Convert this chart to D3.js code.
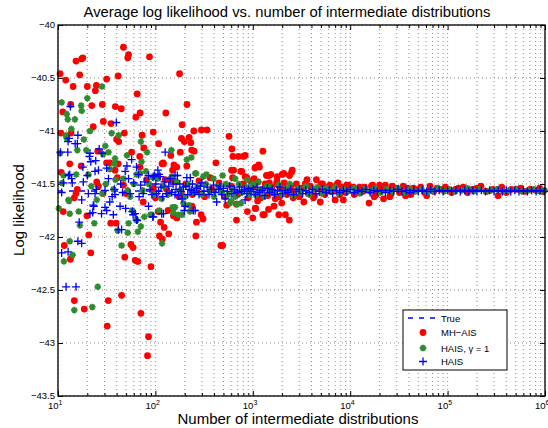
<!DOCTYPE html>
<html lang="en">
<head>
    <meta charset="UTF-8">
    <title>Average log likelihood</title>
    <script src="https://d3js.org/d3.v7.min.js"></script>
    <style>
        body { margin: 0; background: #fff; }
        text { font-family: "Liberation Sans", Arial, Helvetica, sans-serif; }
    </style>
</head>
<body>
    <div id="chart"></div>
    <script>
        // x = number of intermediate distributions, y = log likelihood
        const trueValue = -41.565;

        const mhAis = [
            [10.5,-40.46],[10.7,-41.02],[10.8,-41.39],[11.2,-40.82],[11.3,-41.76],[11.6,-42.08],[12,-40.52],[13.2,-41.31],
            [13.4,-42.21],[13.5,-40.75],[13.6,-41.02],[14.3,-40.58],[14.7,-41.63],[14.7,-42.6],[15.3,-40.34],[15.3,-41.59],
            [15.8,-41.55],[16.7,-40.47],[17.3,-41.33],[17.5,-40.32],[18,-40.31],[18.6,-42.68],[19.8,-41.8],[20,-40.58],
            [20.7,-41.98],[21.7,-42.15],[22.2,-40.76],[23,-40.96],[24.2,-40.62],[24.8,-40.57],[25,-41.48],[25.6,-41.19],
            [26,-41.52],[28.5,-40.75],[29,-41.59],[29.2,-40.91],[31.5,-41.3],[31.6,-40.51],[32,-42.84],[32.8,-42.6],
            [34,-41.3],[34.8,-41.87],[35,-40.93],[38.5,-41.37],[38.8,-40.77],[39.5,-41.87],[40,-41.08],[40.7,-41.44],
            [41.4,-40.48],[41.5,-41.31],[42,-41.1],[44.6,-40.79],[45,-42.55],[47,-40.21],[47,-41.51],[48,-41.02],
            [48.5,-42.19],[50,-41.59],[52,-40.31],[53,-40.28],[56,-42.07],[57,-41.2],[59,-42.1],[62,-42.22],
            [63,-40.87],[65,-40.65],[66,-42.23],[69,-41.24],[69.6,-40.83],[69.6,-41.34],[71,-42.72],[73,-41.04],
            [75,-41.67],[76,-41.16],[81,-41.46],[83,-43.12],[85,-42.94],[87,-40.3],[90,-42.28],[95,-41.01],
            [95,-41.54],[100,-41.63],[107,-41.76],[108,-41.12],[110,-41.99],[113,-41.86],[117,-41.31],[118,-42.02],
            [120,-41.3],[121,-41.31],[123,-41.91],[126,-41.46],[128,-40.83],[130,-41.55],[135,-41.75],[137,-41.97],
            [142,-41.46],[144,-41.23],[150,-41.37],[153,-41.8],[155,-41.32],[160,-41.48],[166,-41.82],[166,-41.34],
            [175,-41.62],[177,-40.46],[180,-41.2],[185,-41.07],[185,-41.59],[188,-40.94],[198,-41.1],[205,-41.5],
            [210,-41.33],[211,-40.75],[222,-41.06],[231,-41.11],[236,-41.18],[237,-41.71],[240,-41.6],[248,-41],
            [250,-41.19],[260,-41.99],[264,-41.86],[266,-41.57],[280,-41.47],[295,-41.79],[297,-40.99],[308,-41.83],
            [320,-41.62],[339,-40.99],[364,-41.44],[380,-41.55],[418,-41.3],[450,-41.49],[470,-42.08],[490,-42.08],
            [520,-41.62],[540,-41.7],[570,-41.05],[600,-41.52],[605,-41.37],[610,-41.17],[620,-41.44],[625,-41.24],
            [635,-41.37],[680,-41.69],[680,-41.84],[700,-41.6],[712,-41.24],[755,-41.38],[770,-41.38],[800,-41.24],
            [800,-41.5],[834,-41.23],[834,-41.43],[870,-41.44],[880,-41.76],[900,-41.63],[940,-41.47],
            [1000,-41.82],[1020,-41.52],[1030,-41.45],[1050,-41.35],[1060,-41.73],[1070,-41.34],[1070,-41.73],[1090,-41.6],
            [1120,-41.66],[1130,-41.48],[1150,-41.32],[1170,-41.34],[1210,-41.63],[1260,-41.55],[1270,-41.19],[1270,-41.79],
            [1310,-41.79],[1340,-41.5],[1380,-41.42],[1420,-41.61],[1450,-41.74],[1475,-41.42],[1480,-41.49],[1530,-41.41],
            [1560,-41.53],[1620,-41.58],[1650,-41.71],[1700,-41.64],[1750,-41.5],[1770,-41.47],[1780,-41.43],[1850,-41.79],
            [1880,-41.62],[1950,-41.55],[1980,-41.68],[2000,-41.41],[2080,-41.4],[2100,-41.49],[2160,-41.79],[2240,-41.6],
            [2370,-41.84],[2380,-41.42],[2450,-41.52],[2500,-41.39],[2540,-41.37],[2600,-41.63],[2650,-41.57],[2800,-41.5],
            [3000,-41.62],[3200,-41.54],[3340,-41.67],[3450,-41.5],[3600,-41.46],[3700,-41.59],[3900,-41.52],[4200,-41.63],
            [4300,-41.61],[4500,-41.46],[4700,-41.54],[4930,-41.67],[5000,-41.5],[5200,-41.5],[5500,-41.6],[5900,-41.53],
            [6200,-41.51],[6500,-41.57],[7000,-41.65],[7200,-41.51],[7500,-41.49],[7800,-41.6],[8200,-41.53],[8500,-41.65],
            [9000,-41.58],[9200,-41.51],[9600,-41.51],[10800,-41.53],[11000,-41.6],[12500,-41.53],[13500,-41.57],[14000,-41.53],
            [15600,-41.68],[16500,-41.52],[17000,-41.51],[17600,-41.62],[18500,-41.6],[20000,-41.51],[21000,-41.55],[22000,-41.64],
            [23000,-41.51],[25500,-41.62],[26000,-41.6],[27000,-41.52],[29000,-41.54],[32000,-41.58],[35000,-41.52],[37000,-41.61],
            [39000,-41.54],[42000,-41.6],[44500,-41.54],[47000,-41.55],[53000,-41.53],[58000,-41.58],[61000,-41.61],[66000,-41.52],
            [72000,-41.57],[78000,-41.54],[85000,-41.55],[95000,-41.53],[110000,-41.58],[120000,-41.55],[130000,-41.54],[145000,-41.53],
            [160000,-41.58],[180000,-41.55],[200000,-41.54],[220000,-41.52],[250000,-41.57],[290000,-41.55],[330000,-41.61],[360000,-41.53],
            [400000,-41.58],[450000,-41.55],[520000,-41.55],[560000,-41.54],[620000,-41.57],[700000,-41.55],[800000,-41.56],[880000,-41.54],
            [950000,-41.57]
        ];

        const haisGamma = [
            [10.2,-41.73],[10.5,-41.21],[10.9,-40.73],[11,-41.49],[11.4,-41.42],[11.5,-42.23],[12,-41.04],[12.3,-40.84],
            [12.3,-41.07],[12.6,-40.89],[12.8,-41.65],[13,-41.66],[13.2,-42.04],[13.2,-41.78],[13.7,-40.98],[14.1,-42.17],
            [14.7,-42.69],[14.9,-40.89],[15.4,-41.41],[15.8,-41.18],[16.3,-41.76],[16.8,-41.89],[17.3,-40.76],[17.5,-40.81],
            [18.4,-41.08],[19.5,-41.18],[20,-40.69],[20.5,-41.41],[21.3,-41],[22,-41.52],[22.5,-42.66],[23.6,-41.87],
            [25,-41.65],[25.6,-42.47],[28.3,-40.58],[28.5,-41.59],[29,-41.22],[30.6,-41.14],[31,-41.5],[33,-41.2],
            [34,-41.36],[35.5,-41.02],[37,-41.55],[38,-41.31],[38.5,-41.26],[39,-41.46],[41,-41.94],[42,-41.04],
            [45,-42.08],[47,-41.45],[51,-41.23],[52,-41.56],[52,-41.96],[53,-41.87],[55,-41.62],[58,-41.75],
            [60,-41.5],[64,-41.41],[64,-41.84],[66,-41.95],[70,-41.4],[71,-41.1],[71,-41.9],[72,-41.29],
            [74,-41.56],[77,-41.81],[80,-41.38],[82,-41.2],[86,-41.5],[89,-41.79],[92,-41.79],[94,-41.44],
            [97,-41.6],[103,-41.43],[105,-41.45],[110,-41.75],[116,-41.64],[117,-42.06],[120,-41.52],[135,-41.6],
            [146,-41.18],[147,-41.43],[150,-41.72],[153,-41.77],[159,-41.72],[165,-41.48],[172,-41.79],[180,-41.56],
            [188,-41.79],[194,-41.68],[200,-41.62],[210,-41.27],[215,-41.5],[220,-41.7],[227,-41.76],[234,-41.25],
            [245,-41.58],[256,-41.4],[262,-41.4],[270,-41.53],[300,-41.6],[310,-41.43],[330,-41.5],[334,-41.41],
            [360,-41.57],[395,-41.45],[400,-41.62],[440,-41.52],[480,-41.58],[490,-41.42],[530,-41.5],[560,-41.6],
            [585,-41.68],[600,-41.66],[620,-41.55],[658,-41.45],[660,-41.62],[690,-41.69],[720,-41.5],[755,-41.68],
            [780,-41.58],[850,-41.53],[880,-41.46],[920,-41.6],[960,-41.55],
            [1000,-41.5],[1080,-41.6],[1140,-41.48],[1200,-41.56],[1300,-41.62],[1400,-41.52],[1500,-41.53],[1600,-41.58],
            [1700,-41.59],[1850,-41.51],[2000,-41.6],[2200,-41.55],[2400,-41.5],[2600,-41.61],[2900,-41.54],[3100,-41.58],
            [3500,-41.52],[3800,-41.6],[4200,-41.55],[4600,-41.53],[5100,-41.59],[5700,-41.54],[6300,-41.57],[7000,-41.53],
            [7700,-41.59],[8600,-41.55],[9500,-41.57],[11000,-41.54],[12500,-41.59],[14000,-41.55],[16000,-41.57],[18000,-41.54],
            [20500,-41.58],[23500,-41.55],[27000,-41.57],[31000,-41.54],[36000,-41.58],[41000,-41.55],[47000,-41.57],[54000,-41.55],
            [62000,-41.58],[70000,-41.56],[80000,-41.54],[92000,-41.57],[105000,-41.55],[120000,-41.57],[140000,-41.56],[160000,-41.54],
            [185000,-41.57],[210000,-41.55],[245000,-41.57],[280000,-41.56],[320000,-41.55],[370000,-41.57],[430000,-41.56],[500000,-41.55],
            [580000,-41.57],[670000,-41.56],[770000,-41.55],[880000,-41.57],[990000,-41.56]
        ];

        const hais = [
            [10.6,-41.2],[10.9,-41.58],[10.9,-42.15],[11.4,-41.49],[12.1,-42.47],[12.7,-42.14],[12.6,-41.2],[12.7,-41.1],
            [12.8,-41.42],[13,-41.07],[13.2,-41.41],[13.4,-40.77],[13.8,-41.45],[14,-41.49],[15,-41.12],[15.3,-42.47],
            [15.8,-41.12],[16,-41.04],[16,-42.04],[16.5,-41.86],[17.5,-42.06],[17.5,-41.65],[18,-41.34],[18.2,-41.48],
            [20,-41.42],[20.5,-41.59],[21,-41.24],[21.3,-41.21],[21.3,-41.78],[21.7,-41.29],[22.7,-41.77],[23,-41.7],
            [23.3,-41.71],[24,-41.38],[24,-41.59],[24.4,-41.28],[24.8,-41.55],[26,-41.37],[26.5,-41.17],[28,-41.78],
            [28.3,-41.21],[30.4,-41.56],[30.4,-41.72],[31.6,-41.35],[31.6,-41.75],[33,-41.45],[34,-41.67],[36,-41.62],
            [37,-41.79],[38,-41.55],[38.5,-41.6],[39.7,-40.92],[41.7,-41.93],[43.4,-41.71],[44,-41.5],[45,-41.93],
            [46,-41.58],[49,-41.38],[49.5,-41.73],[51,-41.33],[53,-41.45],[55,-41.59],[57,-41.27],[58,-41.76],
            [59,-41.79],[60,-41.49],[62,-41.78],[64,-41.34],[64,-41.84],[65,-41.84],[67,-41.41],[68,-41.62],
            [70.5,-41.51],[75,-41.59],[78,-41.48],[85,-41.42],[85,-41.71],[88,-41.55],[92,-41.6],[94,-41.81],
            [95,-41.43],[95,-41.81],[98,-41.42],[101,-41.5],[103,-41.59],[106,-41.37],[108,-41.57],[109,-41.41],
            [112,-41.43],[114,-41.53],[116,-41.78],[119,-41.62],[121,-41.78],[124,-41.48],[126,-41.2],[131,-41.59],
            [137,-41.52],[142,-41.45],[147,-41.58],[152,-41.5],[159,-41.42],[159,-41.6],[163,-41.55],[168,-41.42],
            [172,-41.61],[178,-41.5],[183,-41.57],[188,-41.64],[194,-41.53],[198,-41.75],[202,-41.71],[205,-41.52],
            [210,-41.44],[215,-41.6],[222,-41.55],[228,-41.44],[233,-41.56],[240,-41.5],[245,-41.75],[250,-41.58],
            [256,-41.75],[265,-41.54],[280,-41.6],[290,-41.52],[300,-41.49],[315,-41.57],[340,-41.53],[355,-41.6],
            [375,-41.55],[395,-41.51],[410,-41.58],[426,-41.67],[445,-41.55],[460,-41.52],[480,-41.6],[500,-41.54],
            [520,-41.64],[550,-41.57],[580,-41.52],[610,-41.59],[650,-41.55],[690,-41.58],[730,-41.53],[770,-41.57],
            [820,-41.55],[834,-41.65],[870,-41.59],[910,-41.54],[960,-41.57],
            [1010,-41.55],[1060,-41.6],[1110,-41.53],[1180,-41.58],[1250,-41.56],[1330,-41.61],[1410,-41.54],[1490,-41.58],
            [1580,-41.55],[1680,-41.6],[1790,-41.56],[1900,-41.53],[2020,-41.59],[2150,-41.56],[2300,-41.58],[2450,-41.55],
            [2620,-41.6],[2800,-41.57],[3000,-41.55],[3250,-41.59],[3500,-41.56],[3800,-41.58],[4100,-41.55],[4450,-41.59],
            [4800,-41.57],[5200,-41.55],[5650,-41.58],[6100,-41.56],[6600,-41.59],[7200,-41.56],[7800,-41.58],[8500,-41.56],
            [9200,-41.57],[10000,-41.55],[11000,-41.58],[12000,-41.56],[13200,-41.57],[14500,-41.55],[16000,-41.58],[17500,-41.56],
            [19000,-41.57],[21000,-41.56],[23000,-41.58],[25500,-41.56],[28000,-41.57],[31000,-41.55],[34000,-41.57],[37500,-41.56],
            [41000,-41.58],[45000,-41.56],[50000,-41.57],[55000,-41.56],[61000,-41.57],[67000,-41.55],[74000,-41.57],[82000,-41.56],
            [90000,-41.57],[100000,-41.56],[110000,-41.57],[122000,-41.56],[135000,-41.57],[150000,-41.56],[165000,-41.57],[182000,-41.56],
            [200000,-41.57],[222000,-41.56],[245000,-41.57],[270000,-41.56],[300000,-41.57],[330000,-41.56],[365000,-41.57],[400000,-41.56],
            [445000,-41.57],[490000,-41.56],[540000,-41.57],[600000,-41.56],[660000,-41.57],[730000,-41.56],[810000,-41.57],[890000,-41.56],
            [980000,-41.57]
        ];

        const yTicks = [-43.5, -43, -42.5, -42, -41.5, -41, -40.5, -40];
        const xMajor = [1e1, 1e2, 1e3, 1e4, 1e5, 1e6];
        const legendLabels = ["True", "MH\u2212AIS", "HAIS, \u03b3 = 1", "HAIS"];

        const width = 548;
        const height = 428;
        const margin = { top: 25, right: 3, bottom: 32, left: 58 };
        const plotW = width - margin.left - margin.right;
        const plotH = height - margin.top - margin.bottom;

        const redC = "#ff0000";
        const greenC = "#2e8b2e";
        const blueC = "#0000ff";

        const xScale = d3.scaleLog().domain([10, 1e6]).range([0, plotW]);
        const yScale = d3.scaleLinear().domain([-43.5, -40]).range([plotH, 0]);

        // minor ticks 2..9 per decade
        const xMinor = [];
        xMajor.slice(0, -1).forEach(d => { for (let m = 2; m < 10; m++) xMinor.push(d * m); });

        const svg = d3.select("#chart")
            .append("svg")
            .attr("width", width)
            .attr("height", height);

        const g = svg.append("g")
            .attr("transform", `translate(${margin.left},${margin.top})`);

        // grid
        const gridStyle = sel => sel.attr("stroke", "#444").attr("stroke-width", 0.6).attr("stroke-dasharray", "1,3");
        g.selectAll(".vgrid")
            .data(xMajor.concat(xMinor))
            .enter().append("line")
            .attr("x1", d => xScale(d)).attr("x2", d => xScale(d))
            .attr("y1", 0).attr("y2", plotH)
            .call(gridStyle);
        g.selectAll(".hgrid")
            .data(yTicks)
            .enter().append("line")
            .attr("x1", 0).attr("x2", plotW)
            .attr("y1", d => yScale(d)).attr("y2", d => yScale(d))
            .call(gridStyle);

        // axes (ticks pointing inward, mirrored on top/right)
        const xAxis = g.append("g")
            .attr("transform", `translate(0,${plotH})`)
            .call(d3.axisBottom(xScale).tickValues(xMajor).tickSize(-5).tickPadding(6.5));
        // "10" ends at the tick, exponent sits to its right
        xAxis.selectAll("text")
            .attr("font-size", 9.5)
            .attr("text-anchor", "start")
            .attr("x", -10.5)
            .text("10")
            .append("tspan")
            .attr("dy", -4)
            .attr("font-size", 7)
            .text(d => Math.round(Math.log10(d)));

        g.append("g")
            .attr("transform", `translate(0,${plotH})`)
            .call(d3.axisBottom(xScale).tickValues(xMinor).tickSize(-3).tickFormat(""));
        g.append("g")
            .call(d3.axisTop(xScale).tickValues(xMajor).tickSize(-5).tickFormat(""));
        g.append("g")
            .call(d3.axisTop(xScale).tickValues(xMinor).tickSize(-3).tickFormat(""));

        const yAxis = g.append("g")
            .call(d3.axisLeft(yScale).tickValues(yTicks).tickSize(-5).tickPadding(3)
                .tickFormat(d => (d < 0 ? "\u2212" : "") + Math.abs(d)));
        yAxis.selectAll("text").attr("font-size", 9.5).attr("dy", "0.25em");
        g.append("g")
            .attr("transform", `translate(${plotW},0)`)
            .call(d3.axisRight(yScale).tickValues(yTicks).tickSize(-5).tickFormat(""));

        g.selectAll(".domain").attr("stroke", "none");
        g.selectAll(".tick line").attr("stroke", "#000").attr("stroke-width", 1);

        // True line
        g.append("line")
            .attr("x1", 0).attr("x2", plotW)
            .attr("y1", yScale(trueValue)).attr("y2", yScale(trueValue))
            .attr("stroke", blueC).attr("stroke-width", 1.5).attr("stroke-dasharray", "5,6");

        // marker paths
        const star = s => {
            const k = s * 0.7;
            return `M${-s},0L${s},0M0,${-s}L0,${s}M${-k},${-k}L${k},${k}M${-k},${k}L${k},${-k}`;
        };
        const plus = s => `M${-s},0L${s},0M0,${-s}L0,${s}`;

        g.selectAll(".mh")
            .data(mhAis)
            .enter().append("circle")
            .attr("cx", d => xScale(d[0]))
            .attr("cy", d => yScale(d[1]))
            .attr("r", 3.4)
            .attr("fill", redC);

        g.selectAll(".hg")
            .data(haisGamma)
            .enter().append("path")
            .attr("transform", d => `translate(${xScale(d[0])},${yScale(d[1])})`)
            .attr("d", star(3.3))
            .attr("fill", "none")
            .attr("stroke", greenC)
            .attr("stroke-width", 1.8);

        g.selectAll(".hs")
            .data(hais)
            .enter().append("path")
            .attr("transform", d => `translate(${xScale(d[0])},${yScale(d[1])})`)
            .attr("d", plus(4))
            .attr("fill", "none")
            .attr("stroke", blueC)
            .attr("stroke-width", 1.3);

        // frame
        g.append("rect")
            .attr("width", plotW).attr("height", plotH)
            .attr("fill", "none").attr("stroke", "#000").attr("stroke-width", 1.3);

        // title and labels
        svg.append("text")
            .attr("x", 287).attr("y", 17)
            .attr("text-anchor", "middle")
            .attr("font-size", 14.8)
            .text("Average log likelihood vs. number of intermediate distributions");

        svg.append("text")
            .attr("x", 298).attr("y", 424)
            .attr("text-anchor", "middle")
            .attr("font-size", 15)
            .text("Number of intermediate distributions");

        svg.append("text")
            .attr("transform", "translate(24,210) rotate(-90)")
            .attr("text-anchor", "middle")
            .attr("font-size", 15)
            .text("Log likelihood");

        // legend
        const legend = svg.append("g").attr("transform", "translate(403,310)");
        legend.append("rect")
            .attr("width", 104).attr("height", 60)
            .attr("fill", "#fff").attr("stroke", "#000").attr("stroke-width", 1);

        const rowY = [8, 22.5, 38, 51.5];
        legend.append("line")
            .attr("x1", 5).attr("x2", 35)
            .attr("y1", rowY[0]).attr("y2", rowY[0])
            .attr("stroke", blueC).attr("stroke-width", 1.5).attr("stroke-dasharray", "5,6");
        legend.append("circle")
            .attr("cx", 20).attr("cy", rowY[1]).attr("r", 3.4).attr("fill", redC);
        legend.append("path")
            .attr("transform", `translate(20,${rowY[2]})`)
            .attr("d", star(3.3)).attr("fill", "none").attr("stroke", greenC).attr("stroke-width", 1.8);
        legend.append("path")
            .attr("transform", `translate(20,${rowY[3]})`)
            .attr("d", plus(4)).attr("fill", "none").attr("stroke", blueC).attr("stroke-width", 1.3);

        legend.selectAll(".lbl")
            .data(legendLabels)
            .enter().append("text")
            .attr("x", 38)
            .attr("y", (d, i) => rowY[i] + 3.5)
            .attr("font-size", 9.5)
            .text(d => d);
    </script>
</body>
</html>
